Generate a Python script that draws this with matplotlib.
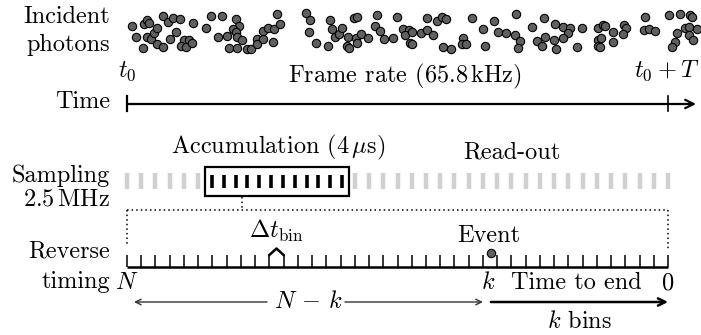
import numpy as np
import matplotlib
matplotlib.use("Agg")
import matplotlib.pyplot as plt

plt.rcParams["font.family"] = "cmr10"
plt.rcParams["mathtext.fontset"] = "cm"

# photon arrival positions (pixel space of the drawing)
photon_x = [132, 136, 143, 144, 147, 149, 147, 151, 154, 157, 157, 163, 163, 168, 173, 180,
            176, 170, 184, 189, 181, 186, 192, 193, 206, 211, 218, 222, 227, 236, 239, 233,
            236, 237, 242, 229, 237, 247, 251, 257, 257, 263, 263, 268, 274, 280, 277, 273,
            306, 310, 309, 316, 328, 330, 332, 335, 339, 342, 348, 347, 349, 354, 357, 356,
            361, 357, 368, 377, 375, 380, 384, 393, 397, 403, 409, 405, 410, 412, 412, 421,
            427, 427, 433, 437, 442, 446, 443, 451, 463, 462, 466, 472, 483, 485, 494, 498,
            506, 516, 515, 520, 518, 532, 537, 544, 545, 542, 555, 554, 556, 563, 570, 568,
            563, 582, 577, 598, 598, 598, 603, 605, 601, 600, 613, 613, 624, 626, 623, 645,
            644, 649, 655, 669, 680, 690, 692, 677, 685, 689, 689, 697, 693, 675, 672]
photon_y = [26, 37, 48, 24, 20, 23, 37, 39, 33, 28, 44, 47, 16, 22, 18, 19,
            32, 39, 40, 40, 46, 47, 43, 23, 28, 16, 37, 16, 36, 19, 26, 29,
            32, 37, 40, 48, 48, 49, 49, 39, 44, 39, 31, 28, 29, 24, 14, 42,
            13, 20, 32, 43, 46, 20, 29, 37, 34, 28, 37, 46, 48, 18, 17, 38,
            34, 43, 38, 15, 26, 31, 39, 38, 17, 29, 30, 35, 43, 32, 44, 33,
            18, 30, 35, 21, 17, 19, 47, 49, 38, 44, 44, 18, 29, 46, 21, 32,
            33, 14, 35, 41, 48, 27, 41, 18, 37, 46, 24, 40, 49, 27, 28, 33,
            38, 28, 47, 28, 40, 46, 25, 26, 38, 47, 32, 42, 25, 28, 34, 17,
            30, 29, 31, 15, 14, 15, 17, 33, 28, 27, 35, 29, 40, 42, 47]

n_bins = 38          # reverse-timing bins across one frame
k_event = 13         # bins from the event to the end of the frame
readout_left = list(range(0, 6))
readout_right = list(range(16, 39))
n_accum = 12         # samples drawn inside the accumulation window
hat_bin = 10

fig = plt.figure(figsize=(7.01, 3.35), dpi=100)
ax = fig.add_axes([0, 0, 1, 1])
ax.set_xlim(0, 701)
ax.set_ylim(335, 0)
ax.axis("off")

fs = 17.5
x0, x1 = 127, 668
step = (x1 - x0) / n_bins

# incident photons
ax.plot(photon_x, photon_y, "o", ms=6.0, mfc="#606060", mec="black", mew=0.8)
ax.text(110, 17, "Incident", ha="right", va="center", fontsize=fs)
ax.text(110, 45, "photons", ha="right", va="center", fontsize=fs)

# time axis
ax.text(x0, 71, r"$t_0$", ha="center", va="center", fontsize=fs)
ax.text(699, 71, r"$t_0+T$", ha="right", va="center", fontsize=fs)
ax.text(405, 76, r"Frame rate (65.8$\,$kHz)", ha="center", va="center", fontsize=fs)
ax.text(110, 102, "Time", ha="right", va="center", fontsize=fs)
ax.annotate("", xy=(696, 104), xytext=(x0, 104),
            arrowprops=dict(arrowstyle="->", lw=1.6, color="black", shrinkA=0, shrinkB=0,
                            mutation_scale=15))
ax.plot([x0, x0], [96, 111], color="black", lw=1.6)
ax.plot([x1, x1], [96, 111], color="black", lw=1.2)

# sampling
ax.text(110, 176, "Sampling", ha="right", va="center", fontsize=fs)
ax.text(110, 199, r"2.5$\,$MHz", ha="right", va="center", fontsize=fs)
ax.text(278, 147, r"Accumulation (4$\,\mu$s)", ha="center", va="center", fontsize=fs)
ax.text(512, 152, "Read-out", ha="center", va="center", fontsize=fs)
gray_x = [x0 + i * step for i in readout_left + readout_right]
ax.vlines(gray_x, 173, 189, color="#d0d0d0", lw=3.2)
box_l, box_r = 205, 349
acc_x = np.linspace(box_l + 7, box_r - 7, n_accum)
ax.vlines(acc_x, 175, 188, color="black", lw=2.6)
ax.add_patch(plt.Rectangle((box_l, 167), box_r - box_l, 29, fill=False, lw=1.6, ec="black"))

# dotted guides
ax.plot([242, 242], [197, 210], color="black", lw=1.1, ls=(0, (1, 2)))
ax.plot([x0, x1], [210, 210], color="black", lw=1.1, ls=(0, (1, 2)))
ax.plot([x0, x0], [210, 245], color="black", lw=1.1, ls=(0, (1, 2)))
ax.plot([x1, x1], [210, 250], color="black", lw=1.1, ls=(0, (1, 2)))

# reverse timing axis
ax.text(110, 251, "Reverse", ha="right", va="center", fontsize=fs)
ax.text(110, 282, "timing", ha="right", va="center", fontsize=fs)
tick_x = [x0 + i * step for i in range(n_bins + 1)]
ax.vlines(tick_x, 255, 267, color="black", lw=1.1)
ax.plot([x0, x1], [267, 267], color="black", lw=1.8, solid_capstyle="butt")
hx = x0 + hat_bin * step
ax.plot([hx, hx + step / 2, hx + step], [255, 248.5, 255], color="black", lw=1.8)
ax.text(hx + step / 2, 231, r"$\Delta t_{\rm bin}$", ha="center", va="center", fontsize=fs)

kx = x1 - k_event * step
ax.plot([kx + 8], [253], "o", ms=6.0, mfc="#606060", mec="black", mew=0.8)
ax.text(kx + 6, 236, "Event", ha="center", va="center", fontsize=fs)

ax.text(x0, 283, r"$N$", ha="center", va="center", fontsize=fs)
ax.text(kx + 5, 283, r"$k$", ha="center", va="center", fontsize=fs)
ax.text(576, 283, "Time to end", ha="center", va="center", fontsize=fs)
ax.text(x1, 283, "0", ha="center", va="center", fontsize=fs)

# span arrows
thin = dict(arrowstyle="->", lw=1.0, color="#333333", shrinkA=0, shrinkB=0, mutation_scale=10)
ax.annotate("", xy=(134, 302), xytext=(267, 302), arrowprops=thin)
ax.annotate("", xy=(kx, 302), xytext=(345, 302), arrowprops=thin)
ax.text(308, 302, r"$N\,-\,k$", ha="center", va="center", fontsize=fs)
ax.annotate("", xy=(x1, 302), xytext=(kx + 8, 302),
            arrowprops=dict(arrowstyle="->", lw=1.8, color="black", shrinkA=0, shrinkB=0,
                            mutation_scale=13))
ax.text(580, 322, r"$k$ bins", ha="center", va="center", fontsize=fs)

fig.savefig("out.png", dpi=100)
